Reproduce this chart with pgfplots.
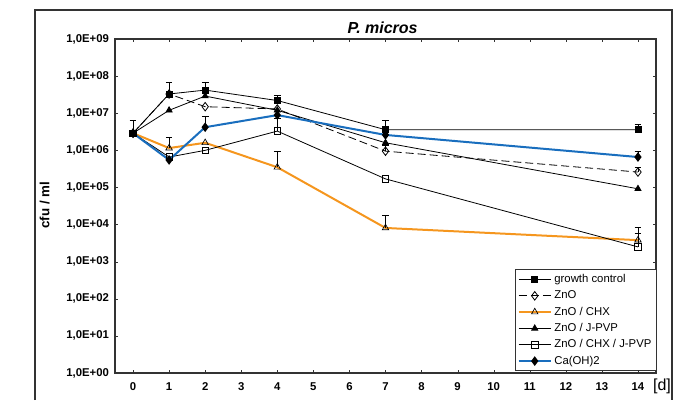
\documentclass[border=0pt]{standalone}
\usepackage{pgfplots}
\pgfplotsset{compat=1.18}
\usepackage{fontspec}
\setmainfont{Liberation Sans}
\definecolor{orng}{RGB}{245,150,30}
\definecolor{blu}{RGB}{25,110,190}
\begin{document}
\begin{tikzpicture}
\useasboundingbox (0,0) rectangle (516pt,-300pt);
% outer frame
\draw[line width=1pt, black!80] (26.25pt,-300pt) -- (26.25pt,-7.5pt) -- (504pt,-7.5pt) -- (504pt,-300pt);
\node[font=\bfseries\itshape\fontsize{12}{14}\selectfont] at (287pt,-20.5pt) {P. micros};
\node[font=\bfseries\fontsize{10}{12}\selectfont, rotate=90] at (33.5pt,-154pt) {cfu / ml};
\node[font=\fontsize{12}{14}\selectfont] at (496.5pt,-290pt) {[d]};
\begin{axis}[
    at={(86.25pt,-279.75pt)}, anchor=south west,
    scale only axis, width=405.75pt, height=250.5pt,
    ymode=log, ymin=1, ymax=1e9,
    xmin=-0.5, xmax=14.5,
    xtick={0,1,...,14},
    xticklabels={0,1,2,3,4,5,6,7,8,9,10,11,12,13,14},
    ytick={1,1e1,1e2,1e3,1e4,1e5,1e6,1e7,1e8,1e9},
    yticklabels={{1,0E+00},{1,0E+01},{1,0E+02},{1,0E+03},{1,0E+04},{1,0E+05},{1,0E+06},{1,0E+07},{1,0E+08},{1,0E+09}},
    ticklabel style={font=\bfseries\fontsize{8.5}{10}\selectfont},
    xticklabel style={yshift=-4pt},
    yticklabel style={xshift=-1pt},
    minor tick num=0, yminorticks=false,
    major tick length=2pt,
    axis line style={line width=0.9pt, black!80},
    tick style={black!80},
    legend style={font=\fontsize{8.5}{10}\selectfont, at={(0.74,0.31)}, anchor=north west,
                  draw=black!80, line width=0.6pt, inner sep=1.5pt, row sep=0.6pt,
                  cells={anchor=west}},
    legend image code/.code={\draw[#1] (0pt,0pt) -- (24pt,0pt); \draw[#1, only marks] plot coordinates {(12pt,0pt)};},
    every axis plot/.append style={
        /pgfplots/error bars/y dir=plus, /pgfplots/error bars/y explicit,
        /pgfplots/error bars/error bar style={black, line width=0.5pt, solid},
        /pgfplots/error bars/error mark options={black, mark size=2.5pt, rotate=90, solid}},
]
\addplot[black, line width=0.6pt, mark=square*, mark size=2.3pt] coordinates {
    (0,2.9e6) +- (0,3.7e6) (1,3.3e7) (2,4.2e7) +- (0,2.7e7) (4,2.2e7) +- (0,0.8e7) (7,3.6e6) +- (0,3e6) (14,3.6e6) +- (0,1.5e6)
};
\addlegendentry{growth control}
\addplot[black, line width=0.6pt, dashed, dash pattern=on 6pt off 3pt, mark=diamond, mark options={solid, fill=white}, mark size=3.2pt] coordinates {
    (0,2.9e6) (1,3.3e7) +- (0,3.6e7) (2,1.5e7) (4,1.3e7) (7,9.5e5) +- (0,4e5) (14,2.6e5) +- (0,1e5)
};
\addlegendentry{ZnO}
\addplot[orng, line width=1.5pt, mark=triangle, mark options={black, fill=white, line width=0.5pt}, mark size=2.8pt] coordinates {
    (0,2.9e6) (1,1.15e6) +- (0,1.15e6) (2,1.6e6) (4,3.5e5) +- (0,6e5) (7,8.1e3) +- (0,1e4) (14,3.8e3) +- (0,2e3)
};
\addlegendentry{ZnO / CHX}
\addplot[black, line width=0.6pt, mark=triangle*, mark size=2.6pt] coordinates {
    (0,2.9e6) (1,1.2e7) (2,2.9e7) (4,1.2e7) (7,1.6e6) (14,9.2e4)
};
\addlegendentry{ZnO / J-PVP}
\addplot[black, line width=0.6pt, mark=square, mark options={fill=white}, mark size=2.4pt] coordinates {
    (0,2.9e6) (1,6.6e5) (2,1.0e6) (4,3.3e6) +- (0,4e6) (7,1.7e5) (14,2.5e3) +- (0,6e3)
};
\addlegendentry{ZnO / CHX / J-PVP}
\addplot[blu, line width=1.5pt, mark=diamond*, mark options={black}, mark size=2.4pt] coordinates {
    (0,2.9e6) (1,5.5e5) (2,4.2e6) +- (0,4.1e6) (4,8.9e6) (7,2.6e6) (14,6.6e5) +- (0,3e5)
};
\addlegendentry{Ca(OH)2}
\end{axis}
\end{tikzpicture}
\end{document}
